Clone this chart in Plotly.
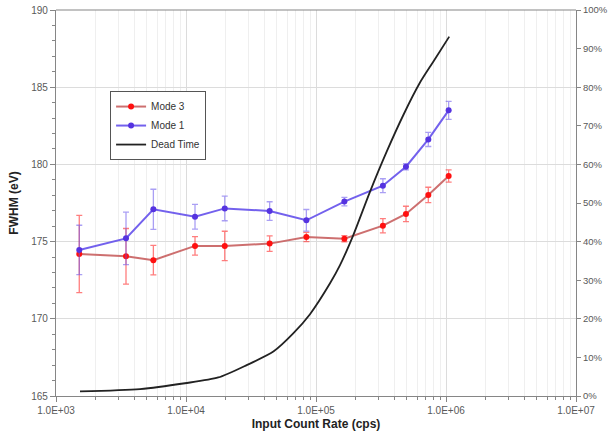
import plotly.graph_objects as go

rate = [1510, 3455, 5610, 11730, 19860, 44000, 84300, 165300, 327000, 492000, 731000, 1048000]
mode3 = [174.2, 174.05, 173.8, 174.72, 174.72, 174.87, 175.3, 175.19, 176.03, 176.79, 178.02, 179.25]
mode3_err = [2.5, 1.8, 0.95, 0.6, 0.95, 0.5, 0.3, 0.2, 0.46, 0.5, 0.5, 0.4]
mode1 = [174.46, 175.21, 177.09, 176.61, 177.15, 176.98, 176.38, 177.59, 178.62, 179.85, 181.62, 183.5]
mode1_err = [1.6, 1.7, 1.3, 0.8, 0.8, 0.6, 0.7, 0.27, 0.45, 0.2, 0.46, 0.58]

dt_rate = [1530, 4430, 9810, 17700, 29300, 47000, 66800, 89900, 128200, 153000,
           193600, 260000, 349700, 469900, 631000, 798000, 1059000]
dead_time = [0.012, 0.018, 0.033, 0.048, 0.080, 0.115, 0.162, 0.212, 0.292, 0.339,
             0.417, 0.529, 0.633, 0.728, 0.812, 0.866, 0.931]

xtick_vals = [1e3, 1e4, 1e5, 1e6, 1e7]
xtick_text = ["1.0E+03", "1.0E+04", "1.0E+05", "1.0E+06", "1.0E+07"]

fig = go.Figure()
fig.add_trace(go.Scatter(
    x=rate, y=mode3, name="Mode 3", mode="lines+markers",
    line=dict(color="rgba(200,95,95,0.9)", width=2),
    marker=dict(color="#ff1010", size=6),
    error_y=dict(type="data", array=mode3_err, color="rgba(255,40,40,0.6)", thickness=1.3, width=3),
))
fig.add_trace(go.Scatter(
    x=rate, y=mode1, name="Mode 1", mode="lines+markers",
    line=dict(color="rgba(100,80,235,0.9)", width=2),
    marker=dict(color="#5533e0", size=6),
    error_y=dict(type="data", array=mode1_err, color="rgba(100,80,235,0.55)", thickness=1.3, width=3),
))
fig.add_trace(go.Scatter(
    x=dt_rate, y=dead_time, name="Dead Time", mode="lines", yaxis="y2",
    line=dict(color="#222222", width=1.8, shape="spline", smoothing=0.7),
))

axis_font = dict(family="Liberation Sans, Arial, sans-serif", size=10, color="#595959")

fig.update_layout(
    width=611, height=437,
    margin=dict(l=56, r=35, t=10, b=41),
    paper_bgcolor="white", plot_bgcolor="white",
    showlegend=True,
    legend=dict(
        x=0.104, y=0.79, xanchor="left", yanchor="top",
        bgcolor="white", bordercolor="#555555", borderwidth=1,
        font=dict(family="Liberation Sans, Arial, sans-serif", size=10, color="#333333"),
        tracegroupgap=0, itemwidth=30,
    ),
    xaxis=dict(
        type="log", range=[3, 7], automargin=False,
        tickvals=xtick_vals, ticktext=xtick_text,
        tickfont=axis_font,
        showline=True, linecolor="#868686", linewidth=1.2, mirror=False,
        ticks="outside", ticklen=5, tickcolor="#868686",
        showgrid=True, gridcolor="#dcdcdc", gridwidth=1,
        minor=dict(dtick="D1", ticks="outside", ticklen=3, tickcolor="#868686",
                   showgrid=True, gridcolor="#efefef"),
        title=dict(text="<b>Input Count Rate (cps)</b>", font=dict(family="Liberation Sans, Arial, sans-serif", size=12, color="#222222"), standoff=4),
        zeroline=False,
    ),
    yaxis=dict(
        range=[165, 190], dtick=5, tickfont=axis_font, automargin=False,
        showline=True, linecolor="#868686", linewidth=1.2,
        ticks="outside", ticklen=5, tickcolor="#868686",
        showgrid=True, gridcolor="#dcdcdc",
        minor=dict(dtick=1, ticks="outside", ticklen=3, tickcolor="#868686", showgrid=False),
        title=dict(text="<b>FWHM (eV)</b>", font=dict(family="Liberation Sans, Arial, sans-serif", size=12, color="#222222"), standoff=10),
        zeroline=False,
    ),
    yaxis2=dict(
        overlaying="y", side="right", range=[0, 1], dtick=0.1, tickformat=".0%",
        tickfont=dict(family="Liberation Sans, Arial, sans-serif", size=9.5, color="#595959"),
        automargin=False,
        showline=True, linecolor="#868686", linewidth=1.2,
        ticks="outside", ticklen=4, tickcolor="#868686",
        showgrid=False, zeroline=False,
    ),
    shapes=[dict(type="line", xref="paper", yref="paper", x0=0, x1=1, y0=1, y1=1,
                 line=dict(color="#868686", width=1.2))],
)

fig.write_html("out.html", config={"displayModeBar": False},
               post_script="document.body.style.margin='0';")
